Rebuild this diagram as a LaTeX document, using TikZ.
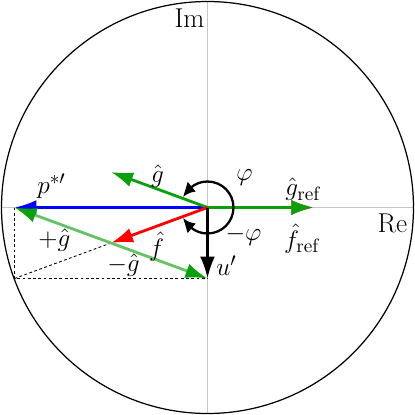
\documentclass[tikz,border=0pt]{standalone}
\usepackage{tikz}
\usetikzlibrary{arrows.meta,bending}
\definecolor{vgreen}{RGB}{10,160,10}
\definecolor{vlight}{RGB}{100,195,100}
\tikzset{
	vec/.style={line width=1.6pt, -{Latex[length=4.4mm,width=3mm]}},
	turn/.style={line width=1.3pt, -{Latex[length=2.7mm,width=2.6mm,bend]}},
	lbl/.style={font=\fontsize{15.5}{18}\selectfont, inner sep=1pt},
	aux/.style={line width=0.5pt, dash pattern=on 1.6pt off 1.4pt},
}

\begin{document}
\begin{tikzpicture}
		%%%%% START %%%%%
		\useasboundingbox (-4.15, -4.15) rectangle (4.15, 4.15);
		
		\coordinate (O) at (0, 0);
		\coordinate (P) at (-3.86, 0);
		\coordinate (G) at (-1.93, 0.71);
		\coordinate (F) at (-1.93, -0.71);
		\coordinate (U) at (0, -1.42);
		\coordinate (Gref) at (2.12, 0);
		\coordinate (C) at (-3.86, -1.42);
		
		% axes and unit circle
		\draw[black!22, line width=0.7pt] (-4.13, 0) -- (4.13, 0);
		\draw[black!22, line width=0.7pt] (0, -4.13) -- (0, 4.13);
		\draw[line width=0.7pt] (O) circle (4.12);
		\node[lbl] (im) at (-0.36, 3.78) {Im};
		\node[lbl] (re) at (3.70, -0.32) {Re};
		
		% construction lines
		\draw[aux] (P) -- (C) -- (U);
		\draw[aux] (C) -- (F);
		
		% vectors
		\draw[vec, red, yshift=-0.5pt] (O) -- (Gref);
		\draw[vec, vgreen] (O) -- (Gref);
		\draw[vec, blue] (O) -- (P);
		\draw[vec, vgreen] (O) -- (G);
		\draw[vec, red] (O) -- (F);
		\draw[vec, vlight, -{Latex[length=4.4mm,width=3mm,color=vgreen]}] (F) -- (P);
		\draw[vec, vlight, -{Latex[length=4.4mm,width=3mm,color=vgreen]}] (F) -- (U);
		\draw[vec, black] (O) -- (U);
		
		% angles
		\draw[turn] (0.52, 0) arc (0:157:0.52);
		\draw[turn] (0.52, 0) arc (0:-157:0.52);
		
		% labels
		\node[lbl] (lp) at (-3.12, 0.42) {$p^{*\prime}$};
		\node[lbl] (lg) at (-1.00, 0.62) {$\hat{g}$};
		\node[lbl] (lphi) at (0.74, 0.60) {$\varphi$};
		\node[lbl] (lmphi) at (0.72, -0.56) {$-\varphi$};
		\node[lbl] (lgref) at (1.92, 0.36) {$\hat{g}_{\mathrm{ref}}$};
		\node[lbl] (lfref) at (1.90, -0.62) {$\hat{f}_{\mathrm{ref}}$};
		\node[lbl] (lf) at (-1.02, -0.78) {$\hat{f}$};
		\node[lbl] (lu) at (0.38, -1.16) {$u'$};
		\node[lbl] (lpg) at (-3.06, -0.66) {$+\hat{g}$};
		\node[lbl] (lmg) at (-1.68, -1.16) {$-\hat{g}$};
		
		%%%%% END %%%%%
	\end{tikzpicture}
\end{document}
